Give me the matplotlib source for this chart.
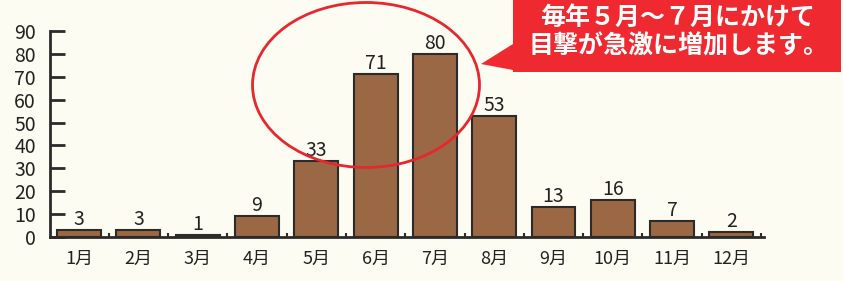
import matplotlib
matplotlib.use("Agg")
import matplotlib.pyplot as plt
from matplotlib.patches import Ellipse, Polygon

plt.rcParams['font.family'] = ['Noto Sans CJK JP', 'DejaVu Sans']

months = ["1月", "2月", "3月", "4月", "5月", "6月", "7月", "8月", "9月", "10月", "11月", "12月"]
counts = [3, 3, 1, 9, 33, 71, 80, 53, 13, 16, 7, 2]
yticks = [0, 10, 20, 30, 40, 50, 60, 70, 80, 90]
callout = "毎年５月～７月にかけて\n目撃が急激に増加します。"

W, H = 843, 281
bg = "#fcfcf2"
fig = plt.figure(figsize=(W / 100, H / 100), dpi=100, facecolor=bg)
ax = fig.add_axes([50 / W, 44 / H, (764 - 50) / W, (237 - 31) / H])
ax.set_facecolor(bg)

x = list(range(len(months)))
bars = ax.bar(x, counts, width=0.74, color="#9a6844", edgecolor="#2b2b2b", linewidth=1.5, zorder=2)
for xi, v in zip(x, counts):
    ax.annotate(str(v), (xi, v), xytext=(0, 0), textcoords="offset points",
                ha="center", va="bottom", fontsize=14, color="#222222")

ax.set_xlim(-0.49, 11.55)
ax.set_ylim(0, 90)
ax.set_yticks(yticks)
ax.set_yticklabels([str(t) for t in yticks], fontsize=14, color="#222222")
ax.set_xticks(x)
ax.set_xticklabels(months, fontsize=13, color="#222222")
ax.tick_params(axis="y", direction="in", length=11, width=2, color="#2b2b2b", pad=10)
ax.tick_params(axis="x", length=0, pad=9)
ax.set_xticks([i + 0.5 for i in range(len(months))], minor=True)
ax.tick_params(axis="x", which="minor", direction="in", length=3, width=1.5, color="#2b2b2b")
for s in ["top", "right"]:
    ax.spines[s].set_visible(False)
for s in ["left", "bottom"]:
    ax.spines[s].set_linewidth(2)
    ax.spines[s].set_color("#2b2b2b")

# red ellipse
ell = Ellipse((366 / W, 1 - 85 / H), 227 / W, 165 / H, transform=fig.transFigure,
              fill=False, edgecolor="#e8262e", linewidth=2.0, zorder=10)
fig.patches.append(ell)

# callout box with pointer
red = "#ee2a30"
box = Polygon([(513 / W, 1 - 0 / H), (841 / W, 1 - 0 / H), (841 / W, 1 - 72 / H),
               (513 / W, 1 - 72 / H), (513 / W, 1 - 70 / H), (481 / W, 1 - 64 / H),
               (513 / W, 1 - 44 / H)], closed=True, transform=fig.transFigure,
              facecolor=red, edgecolor="none", zorder=10)
fig.patches.append(box)
fig.text(678 / W, 1 - 32 / H, callout, ha="center", va="center", color="white",
         fontsize=18, fontweight="bold", linespacing=1.2, zorder=11)

fig.savefig("out.png", dpi=100, facecolor=bg)
